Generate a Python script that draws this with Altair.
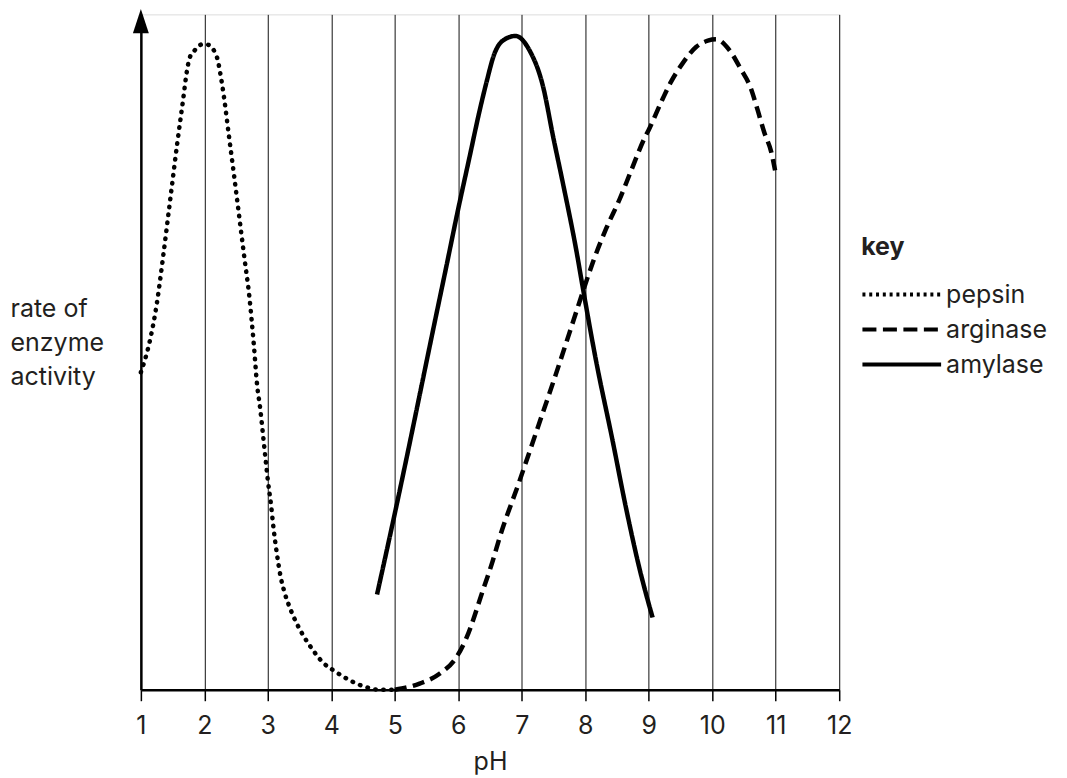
import altair as alt
import pandas as pd

FONT = "Inter"
FS = 25
TEXT = "#231f20"

ph_ticks = list(range(1, 13))
series_names = ["pepsin", "arginase", "amylase"]
y_title_lines = ["rate of", "enzyme", "activity"]

pepsin_ph = [1.00, 1.13, 1.25, 1.35, 1.46, 1.57, 1.67, 1.72, 1.77, 1.85, 1.94, 2.00,
             2.06, 2.20, 2.25, 2.31, 2.39, 2.47, 2.55, 2.63, 2.71, 2.78, 2.83, 2.88,
             2.92, 2.96, 3.00, 3.05, 3.09, 3.14, 3.20, 3.26, 3.34, 3.44, 3.56, 3.70,
             3.86, 4.06, 4.27, 4.51, 4.76, 4.95]
pepsin_rate = [47.0, 51.2, 57.1, 64.1, 72.4, 80.7, 87.7, 91.3, 93.6, 94.7, 95.5, 95.6,
               95.5, 93.6, 91.3, 87.7, 81.8, 76.0, 70.0, 64.0, 58.1, 51.0, 45.2, 41.6,
               38.1, 34.5, 31.0, 27.4, 23.9, 20.3, 16.8, 14.5, 12.3, 10.1, 8.0, 6.0,
               4.1, 2.7, 1.5, 0.5, 0.0, 0.0]

arginase_ph = [5.00, 5.39, 5.71, 5.97, 6.13, 6.39, 6.54, 6.65, 6.96, 7.28, 7.54, 7.86,
               7.94, 8.12, 8.33, 8.54, 8.72, 8.93, 9.01, 9.22, 9.35, 9.53, 9.75, 9.93,
               10.06, 10.27, 10.45, 10.61, 10.71, 10.82, 10.93, 10.99]
arginase_rate = [0.0, 0.9, 2.4, 4.8, 7.7, 14.8, 19.0, 22.5, 30.8, 39.6, 46.8, 56.0,
                 58.3, 63.3, 68.3, 72.6, 76.8, 81.6, 83.1, 87.5, 90.0, 92.7, 95.2, 96.1,
                 96.3, 94.7, 91.9, 89.0, 86.0, 82.5, 79.6, 76.9]

amylase_ph = [4.72, 5.00, 5.65, 5.81, 5.99, 6.18, 6.33, 6.44, 6.57, 6.70, 6.90, 7.12,
              7.33, 7.50, 7.65, 7.86, 7.96, 8.17, 8.43, 8.64, 8.85, 9.06]
amylase_rate = [14.1, 26.1, 55.4, 62.6, 70.8, 79.0, 85.5, 89.8, 94.2, 96.1, 96.8, 94.7,
                89.5, 81.6, 74.9, 65.0, 59.6, 48.7, 36.9, 27.0, 18.1, 10.7]

arrow_ph = [1]
arrow_rate = [99.0]

rows = []
for name, xs, ys in [("pepsin", pepsin_ph, pepsin_rate),
                     ("arginase", arginase_ph, arginase_rate),
                     ("amylase", amylase_ph, amylase_rate)]:
    for i, (xv, yv) in enumerate(zip(xs, ys)):
        rows.append({"series": name, "ph": xv, "rate": yv, "order": i})
df = pd.DataFrame(rows)
arrow_df = pd.DataFrame({"ph": arrow_ph, "rate": arrow_rate})

x_scale = alt.Scale(domain=[1, 12], nice=False, zero=False)
y_scale = alt.Scale(domain=[0, 100], nice=False, zero=False)

x_axis = alt.Axis(values=ph_ticks, title="pH", format="d", grid=True, gridColor="#111111",
                  gridWidth=1, gridOpacity=1, domainColor="black", domainWidth=2.6,
                  tickColor="black", tickWidth=1.5, tickSize=11, labelFontSize=FS,
                  labelFont=FONT, labelColor=TEXT, labelPadding=13, labelFlush=False,
                  titleFontSize=FS, titleFont=FONT, titleFontWeight="normal",
                  titleColor=TEXT, titlePadding=11)
y_axis = alt.Axis(title=y_title_lines, labels=False, ticks=False, grid=False,
                  domainColor="black", domainWidth=2.5, titleAngle=0, titleAlign="left",
                  titleBaseline="middle", titleX=-131, titleY=294, titleLineHeight=34,
                  titleFontSize=FS, titleFont=FONT, titleFontWeight="normal",
                  titleColor=TEXT)

X = alt.X("ph:Q", scale=x_scale, axis=x_axis)
Y = alt.Y("rate:Q", scale=y_scale, axis=y_axis)

def series_layer(name, dash, cap):
    return alt.Chart(df).transform_filter(alt.datum.series == name).mark_line(
        color="black", strokeWidth=4.5, strokeDash=dash, strokeCap=cap,
        interpolate="monotone"
    ).encode(x=X, y=Y, order="order:Q")

pepsin = series_layer("pepsin", [0.5, 7.5], "round")
arginase = series_layer("arginase", [12, 6.5], "butt")
amylase = series_layer("amylase", [1, 0], "butt")

legend_layer = alt.Chart(df).transform_filter("false").mark_line(color="black").encode(
    x=X, y=Y,
    strokeDash=alt.StrokeDash(
        "series:N",
        scale=alt.Scale(domain=series_names, range=[[3, 3.8], [14, 6.5], [1, 0]]),
        legend=alt.Legend(title="key", orient="none", legendX=721, legendY=221,
                          padding=0, titleFontSize=FS, titleFont=FONT,
                          titleFontWeight="bold", titleColor=TEXT, titlePadding=22,
                          labelFontSize=FS, labelFont=FONT, labelColor=TEXT,
                          symbolType="M-1.5,0H9", symbolSize=225, symbolStrokeWidth=4,
                          symbolStrokeColor="black", symbolFillColor="transparent",
                          labelOffset=60, rowPadding=9, symbolOffset=0),
    ),
)

arrow = alt.Chart(arrow_df).mark_point(
    shape="M0,-1L0.65,1L-0.65,1Z", size=600, filled=True, color="black",
    opacity=1, strokeWidth=0
).encode(x=X, y=Y)

chart = alt.layer(pepsin, arginase, amylase, legend_layer, arrow).properties(
    width=699, height=676,
    autosize=alt.AutoSizeParams(type="none"),
    padding={"left": 133, "top": 6, "right": 220, "bottom": 100},
    background="white",
).configure_view(stroke=None).configure(font=FONT)

chart.save("out.html", embed_options={"renderer": "svg", "actions": False})
